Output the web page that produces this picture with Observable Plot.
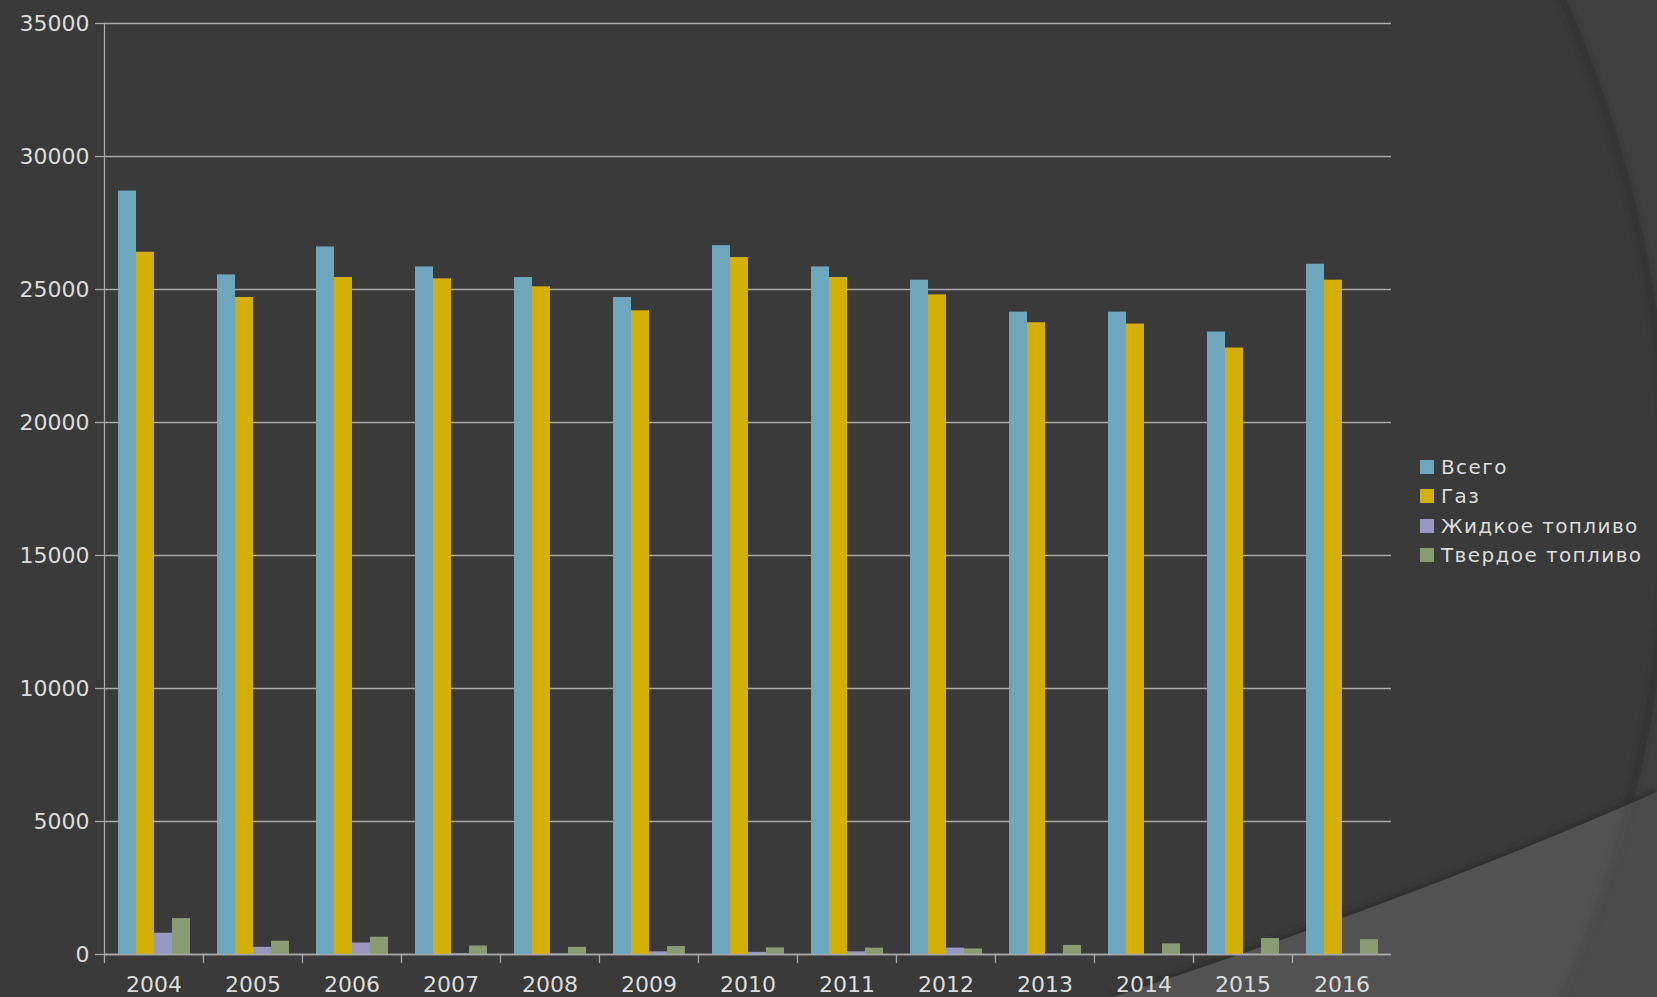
<!DOCTYPE html>
<html><head><meta charset="utf-8">
<script src="https://cdn.jsdelivr.net/npm/d3@7"></script>
<script src="https://cdn.jsdelivr.net/npm/@observablehq/plot@0.6"></script>
<style>
html,body{margin:0;padding:0;background:#3a3a3a;overflow:hidden}
#wrap{position:relative;width:1657px;height:997px}
#bg{position:absolute;left:0;top:0}
#chart{position:absolute;left:0;top:0}
#legend{position:absolute;left:1420px;top:452px;font-family:"DejaVu Sans",sans-serif;font-size:20px;color:#dcdcdc;letter-spacing:1.4px}
.item{display:flex;align-items:center;height:29.5px;white-space:nowrap}
.sw{width:14px;height:14px;margin-right:7px;flex:none}
</style></head>
<body>
<div id="wrap">
<svg id="bg" width="1657" height="997">
  <defs>
    <clipPath id="poly"><path d="M1113,997 Q1420,897 1657,792 L1657,997 Z"/></clipPath>
    <filter id="blur" x="-10%" y="-10%" width="120%" height="120%"><feGaussianBlur stdDeviation="3"/></filter>
  </defs>
  <rect width="1657" height="997" fill="#404040"/>
  <circle cx="430" cy="498" r="1241" fill="#3a3a3a"/>
  <circle cx="430" cy="498" r="1237" fill="none" stroke="#2f2f2f" stroke-width="5" filter="url(#blur)"/>
  <path d="M1113,997 Q1420,897 1657,792" fill="none" stroke="#2c2c2c" stroke-width="6" filter="url(#blur)"/>
  <g clip-path="url(#poly)">
    <rect width="1657" height="997" fill="#4b4b4b"/>
    <circle cx="430" cy="498" r="1241" fill="#525252"/>
    <circle cx="430" cy="498" r="1238" fill="none" stroke="#474747" stroke-width="5" filter="url(#blur)"/>
  </g>
</svg>
<div id="chart"></div>
<div id="legend"></div>
</div>
<script>
const years = ["2004","2005","2006","2007","2008","2009","2010","2011","2012","2013","2014","2015","2016"];
const series = ["Всего","Газ","Жидкое топливо","Твердое топливо"];
const total  = [28700, 25550, 26600, 25850, 25450, 24700, 26650, 25850, 25350, 24150, 24150, 23400, 25950];
const gas    = [26400, 24700, 25450, 25400, 25100, 24200, 26200, 25450, 24800, 23750, 23700, 22800, 25350];
const liquid = [800, 270, 430, 30, 20, 100, 80, 100, 240, 10, 10, 10, 10];
const solid  = [1350, 500, 650, 320, 270, 300, 250, 240, 210, 340, 400, 600, 560];
const colors = ["#6ea6bd", "#d4af04", "#9a98c2", "#8a9a72"];
const yTicks = [0, 5000, 10000, 15000, 20000, 25000, 30000, 35000];

const valuesBySeries = [total, gas, liquid, solid];
const data = years.flatMap((yr, i) => series.map((s, j) => ({year: yr, series: s, value: valuesBySeries[j][i]})));

const W = 1657, H = 997, mL = 103, mR = 266, mT = 23, mB = 43;
const fxStep = (W - mL - mR) / years.length;
const gridColor = "#a9a9a9";

const chart = Plot.plot({
  width: W, height: H,
  marginTop: mT, marginBottom: mB, marginLeft: mL, marginRight: mR,
  style: {background: "transparent", color: "#dcdcdc", fontFamily: "DejaVu Sans, sans-serif", fontSize: "22px", overflow: "visible"},
  fx: {domain: years, padding: 0, label: null},
  x: {domain: series, paddingInner: 0, paddingOuter: 0.675, axis: null},
  y: {domain: [0, 35000], label: null},
  color: {domain: series, range: colors},
  marks: [
    Plot.gridY(yTicks, {stroke: gridColor, strokeOpacity: 1, strokeWidth: 1.3}),
    Plot.frame({anchor: "left", facetAnchor: "left", stroke: gridColor, strokeWidth: 1.3}),
    Plot.axisY(yTicks, {tickSize: 9, tickPadding: 6, stroke: gridColor, strokeOpacity: 1, strokeWidth: 1.3, tickFormat: d3.format("d"), label: null, fontSize: 22, fill: "#dcdcdc"}),
    Plot.barY(data, {fx: "year", x: "series", y: "value", fill: "series"}),
    Plot.ruleY([0], {stroke: gridColor, strokeWidth: 1.3}),
    Plot.axisFx({anchor: "bottom", tickSize: 0, tickPadding: 22, label: null, fontSize: 22, fill: "#dcdcdc"}),
    Plot.axisFx({anchor: "bottom", tickSize: 9, tickFormat: () => "", dx: -fxStep / 2, stroke: gridColor, strokeWidth: 1.3, label: null})
  ]
});
document.getElementById("chart").appendChild(chart);

const legend = document.getElementById("legend");
series.forEach((s, j) => {
  const it = document.createElement("div");
  it.className = "item";
  const sw = document.createElement("span");
  sw.className = "sw";
  sw.style.background = colors[j];
  const tx = document.createElement("span");
  tx.textContent = s;
  it.appendChild(sw); it.appendChild(tx);
  legend.appendChild(it);
});
</script>
</body></html>
